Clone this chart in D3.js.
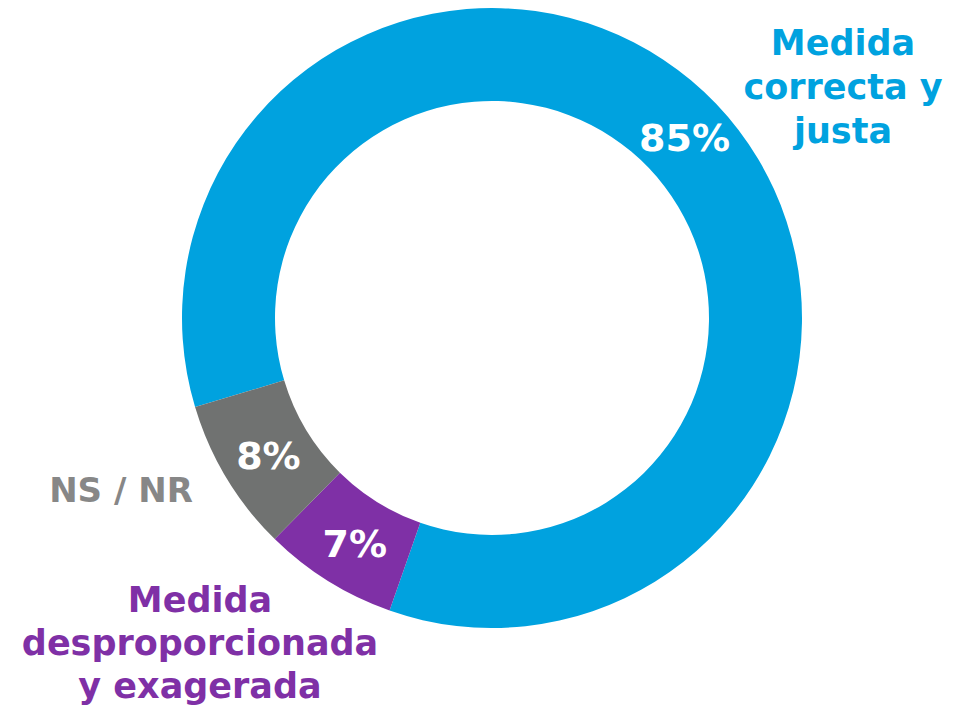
<!DOCTYPE html>
<html>
<head>
<meta charset="utf-8">
<script src="https://cdn.jsdelivr.net/npm/d3@7"></script>
<style>
  body { margin: 0; background: #fff; }
  text { font-family: "DejaVu Sans", sans-serif; font-weight: bold; }
</style>
</head>
<body>
<svg id="chart" width="963" height="710"></svg>
<script>
const width = 963;
const height = 710;

// data
const categories = ["Medida correcta y justa", "Medida desproporcionada y exagerada", "NS / NR"];
const values = [85, 7, 8];
const colors = ["#00a2df", "#7f30a6", "#707271"];
const labelColors = ["#00a2df", "#7f30a6", "#878787"];
const labelLines = [
  ["Medida", "correcta y", "justa"],
  ["Medida", "desproporcionada", "y exagerada"],
  ["NS / NR"]
];

const cx = 492, cy = 318;
const outerR = 310, innerR = 217;

const svg = d3.select("#chart");
const g = svg.append("g").attr("transform", `translate(${cx},${cy})`);

const start = -106.7 * Math.PI / 180;
const pie = d3.pie().sort(null).value(d => d)
  .startAngle(start).endAngle(start + 2 * Math.PI);

const arc = d3.arc().innerRadius(innerR).outerRadius(outerR);
const arcs = pie(values);

g.selectAll("path")
  .data(arcs)
  .enter()
  .append("path")
  .attr("d", arc)
  .attr("fill", (d, i) => colors[i]);

// percent labels at centroids
g.selectAll("text.pct")
  .data(arcs)
  .enter()
  .append("text")
  .attr("class", "pct")
  .attr("x", d => arc.centroid(d)[0] + 2)
  .attr("y", d => arc.centroid(d)[1] + 2)
  .attr("dy", "0.35em")
  .attr("text-anchor", "middle")
  .attr("fill", "#fff")
  .attr("font-size", 38)
  .text(d => d.value + "%");

// category labels
const labelPos = [
  {x: 843, y: 55, size: 35, lh: 44},
  {x: 200, y: 612, size: 35, lh: 43},
  {x: 121, y: 502, size: 34, lh: 43}
];

labelLines.forEach((lines, i) => {
  const p = labelPos[i];
  const t = svg.append("text")
    .attr("text-anchor", "middle")
    .attr("fill", labelColors[i])
    .attr("font-size", p.size);
  lines.forEach((line, j) => {
    t.append("tspan")
      .attr("x", p.x)
      .attr("y", p.y + j * p.lh)
      .text(line);
  });
});
</script>
</body>
</html>
